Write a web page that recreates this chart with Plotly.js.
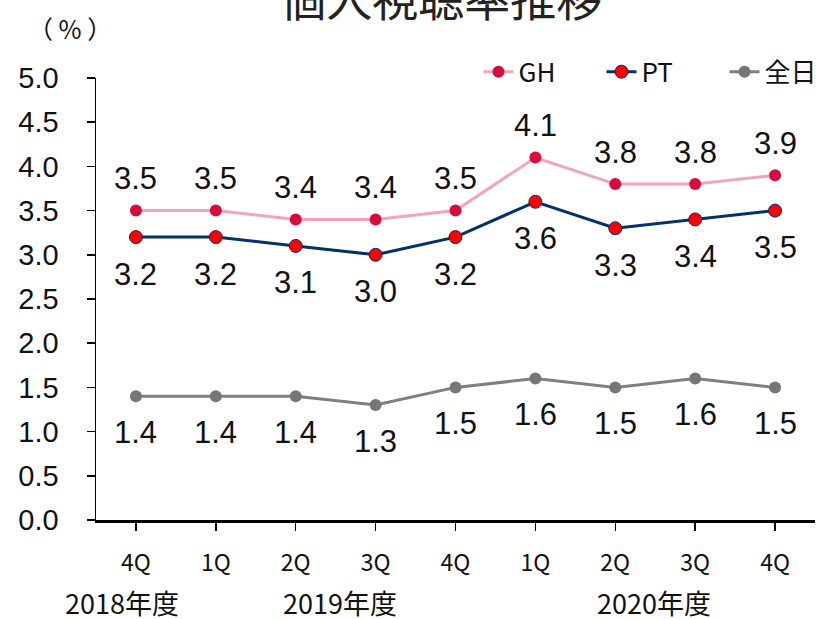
<!DOCTYPE html>
<html>
<head>
<meta charset="utf-8">
<script src="https://cdn.plot.ly/plotly-3.0.1.min.js"></script>
<style>html,body{margin:0;padding:0;background:#fff;}#chart{width:820px;height:619px;}</style>
</head>
<body>
<div id="chart"></div>
<script>
const categories = ["4Q","1Q","2Q","3Q","4Q","1Q","2Q","3Q","4Q"];
const ghValues = [3.5,3.5,3.4,3.4,3.5,4.1,3.8,3.8,3.9];
const ptValues = [3.2,3.2,3.1,3.0,3.2,3.6,3.3,3.4,3.5];
const zenjitsuValues = [1.4,1.4,1.4,1.3,1.5,1.6,1.5,1.6,1.5];
const yearLabels = ["2018年度","2019年度","2020年度"];
const yearPositions = [-0.18, 2.55, 6.49];
const yTickVals = [0,0.5,1,1.5,2,2.5,3,3.5,4,4.5,5];

const numFont = "Liberation Sans, Arial, sans-serif";
const jpFont = "Noto Sans CJK JP, sans-serif";
const fmt = v => v.toFixed(1);
const xIdx = categories.map((c,i)=>i);

const traces = [
  {x:xIdx, y:ghValues, name:"GH", mode:"lines+markers",
   line:{color:"#F2A5B7", width:3}, marker:{color:"#D80B3D", size:12}},
  {x:xIdx, y:ptValues, name:"PT", mode:"lines+markers",
   line:{color:"#003366", width:3}, marker:{color:"#FF0000", size:13, line:{color:"#003366", width:1}}},
  {x:xIdx, y:zenjitsuValues, name:"全日", mode:"lines+markers",
   line:{color:"#7F7F7F", width:3}, marker:{color:"#767676", size:12}}
];

const annotations = [];
function addLabels(vals, shift){
  vals.forEach((v,i)=>annotations.push({
    text:fmt(v), x:xIdx[i], y:v, xref:"x", yref:"y", showarrow:false,
    xanchor:"center", yanchor:"middle", yshift:shift,
    font:{family:numFont, size:31, color:"#111"}
  }));
}
addLabels(ghValues, 32);
addLabels(ptValues, -37);
addLabels(zenjitsuValues, -36);

yearLabels.forEach((t,i)=>annotations.push({
  text:t, x:yearPositions[i], xref:"x", y:-0.186, yref:"paper",
  showarrow:false, xanchor:"center", yanchor:"middle",
  font:{family:jpFont, size:27, color:"#111"}
}));
annotations.push({text:"（ % ）", x:-0.036, xref:"paper", y:1.113, yref:"paper",
  showarrow:false, xanchor:"center", yanchor:"middle",
  font:{family:jpFont, size:25, color:"#111"}});

const layout = {
  width:820, height:619,
  margin:{l:96, r:5, t:78, b:99, autoexpand:false},
  paper_bgcolor:"#fff", plot_bgcolor:"#fff",
  title:{text:"個人視聴率推移", x:0.538, xanchor:"center", y:1, yref:"container", yanchor:"middle",
    font:{family:jpFont, size:46, color:"#222"}},
  showlegend:true,
  legend:{orientation:"h", x:0.532, xanchor:"left", y:1.014, yanchor:"middle",
    entrywidth:78, entrywidthmode:"pixels", itemwidth:30,
    font:{family:jpFont, size:26, color:"#111"}, bgcolor:"rgba(0,0,0,0)"},
  xaxis:{range:[-0.5,8.5], tickvals:xIdx, ticktext:categories, tickson:"boundaries",
    ticks:"outside", ticklen:8, tickwidth:1.5, tickcolor:"#000",
    showline:true, linecolor:"#000", linewidth:3, showgrid:false, zeroline:false,
    ticklabelstandoff:12, tickfont:{family:jpFont, size:23, color:"#111"}, fixedrange:true},
  yaxis:{range:[0,5], tickvals:yTickVals, ticktext:yTickVals.map(fmt),
    ticks:"outside", ticklen:8, tickwidth:1.5, tickcolor:"#000",
    showline:true, linecolor:"#000", linewidth:1.5, showgrid:false, zeroline:false,
    ticklabelstandoff:22, tickfont:{family:numFont, size:29, color:"#111"}, fixedrange:true},
  annotations:annotations
};

Plotly.newPlot("chart", traces, layout, {displayModeBar:false, staticPlot:true});
</script>
</body>
</html>
